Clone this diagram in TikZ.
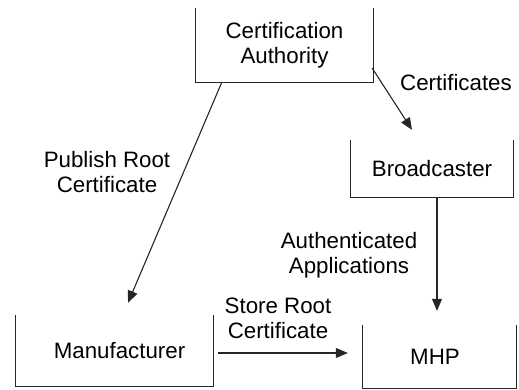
\documentclass[tikz,border=0pt]{standalone}
\usepackage{fontspec}
\setmainfont{Liberation Sans}
\usetikzlibrary{arrows.meta,calc}
\begin{document}
\begin{tikzpicture}[x=1pt,y=-1pt,
  every node/.style={font=\fontsize{22.3}{25}\selectfont, align=center, inner sep=0pt},
  frame/.style={line width=1.1pt, draw=black!85},
  arr/.style={line width=1.1pt, draw=black!85, -{Triangle[length=12pt,width=10pt]}}]
\useasboundingbox (0,0) rectangle (519,390);

% parties, each framed on three sides (open at the top)
\node[minimum width=177pt, minimum height=74pt] (ca) at (284.5,45) {Certification\\Authority};
\node[minimum width=162pt, minimum height=57pt] (bc) at (432,168.5) {Broadcaster};
\node[minimum width=197pt, minimum height=71pt] (mf) at (114.5,350.5) {\hspace*{10pt}Manufacturer};
\node[minimum width=153pt, minimum height=63pt] (mhp) at (439.5,356.5) {MHP\hspace*{9pt}};

\foreach \b in {ca,bc,mf,mhp}
  \draw[frame] (\b.north west) -- (\b.south west) -- (\b.south east) -- (\b.north east);

% flows between the parties
\draw[arr] ($(ca.south east)+(-1,-14)$) -- ($(bc.north)+(-20,-10)$);
\draw[arr] ($(ca.south west)+(26,0)$) -- ($(mf.north)+(13.5,-12)$);
\draw[arr] ($(bc.south)+(5,0)$) -- ($(mhp.north)+(-2.5,-14)$);
\draw[arr] ($(mf.east)+(5,2.5)$) -- ($(mhp.west)+(-15,-3.5)$);

% flow labels
\node (lcert) at (456,83) {Certificates};
\node (lpub) at (107,172) {Publish Root\\Certificate};
\node (lauth) at (349,255) {Authenticated\\Applications};
\node (lstore) at (278,318) {Store Root\\Certificate};
\end{tikzpicture}
\end{document}
